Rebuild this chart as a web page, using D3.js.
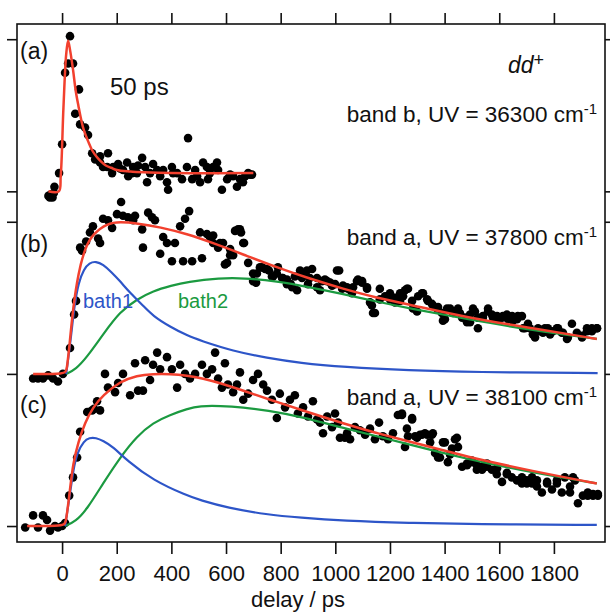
<!DOCTYPE html>
<html>
<head>
<meta charset="utf-8">
<script src="https://cdn.jsdelivr.net/npm/d3@7"></script>
<style>
  body { margin: 0; background: #fff; }
  text { font-family: "Liberation Sans", Arial, sans-serif; fill: #111; }
</style>
</head>
<body>
<script>
// ---- data (delay in ps, normalised signal) ----
var xTicks = [0, 200, 400, 600, 800, 1000, 1200, 1400, 1600, 1800];
var yTicks = [0, 1, 2, 2.2, 3.2];
var offsets = {a: 2.2, b: 1, c: 0};

var dotsA = [[-50,-0.03],[-45,-0.04],[-40,-0.02],[-35,-0.04],[-30,-0.01],[-28,0.03],[-11,0.12],[0,0.31],
  [11,0.78],[22,0.84],[29,1.02],[40,0.84],[48,0.51],[62,0.67],[66,0.44],[84,0.42],[95,0.37],[110,0.25],
  [121,0.21],[139,0.19],[139,0.23],[150,0.16],[165,0.16],[168,0.25],[183,0.12],[187,0.16],[205,0.18],
  [212,0.15],[223,0.14],[238,0.19],[242,0.10],[256,0.12],[260,0.16],[274,0.12],[278,0.17],[293,0.22],
  [304,0.16],[311,0.06],[322,0.12],[333,0.18],[348,0.14],[359,0.10],[370,0.14],[384,0.06],[388,0.01],
  [402,0.16],[406,0.12],[421,0.12],[439,0.08],[457,0.16],[461,0.35],[476,0.08],[487,0.14],[494,0.10],
  [505,0.06],[516,0.19],[530,0.16],[534,0.08],[541,0.12],[553,0.16],[567,0.19],[571,0.14],[585,0.01],
  [604,0.08],[615,0.11],[626,0.10],[640,0.03],[651,0.08],[662,0.06],[670,0.10],[681,0.12],[688,0.11],[695,0.11]];

var dotsB = [[-106,-0.03],[-88,-0.03],[-70,-0.03],[-51,-0.01],[-33,-0.03],[-15,-0.05],[3,0.0],
  [29,0.17],[44,0.39],[51,0.48],[66,0.83],[73,0.81],[88,0.87],[102,0.93],[113,0.97],[132,0.89],[139,0.86],
  [150,1.02],[168,1.01],[183,0.96],[201,1.05],[216,1.13],[223,1.04],[241,1.03],[260,1.01],[267,1.04],
  [293,0.95],[296,0.83],[315,1.06],[329,1.03],[340,1.01],[359,0.79],[370,0.90],[384,0.86],[402,0.74],
  [413,0.86],[432,0.97],[443,0.74],[450,1.02],[465,1.07],[476,0.74],[505,0.93],[512,0.76],[530,0.92],
  [541,0.90],[553,0.86],[553,0.91],[571,0.83],[578,0.86],[589,0.86],[596,0.72],[604,0.73],[615,0.82],
  [615,0.78],[626,0.78],[633,0.94],[644,0.95],[651,0.95],[655,0.93],[663,0.86],[666,0.86],[681,0.73],
  [699,0.66],[699,0.61],[710,0.60],[713,0.66],[724,0.70],[732,0.70],[743,0.69],[750,0.69],[757,0.68],
  [768,0.64],[772,0.64],[786,0.66],[790,0.70],[805,0.63],[808,0.63],[823,0.62],[823,0.59],[837,0.59],
  [842,0.57],[852,0.64],[860,0.55],[871,0.68],[878,0.63],[889,0.66],[896,0.68],[900,0.59],[907,0.63],
  [915,0.69],[933,0.63],[933,0.57],[944,0.55],[951,0.61],[962,0.62],[970,0.61],[981,0.60],[988,0.58],
  [999,0.59],[1006,0.68],[1014,0.68],[1025,0.56],[1028,0.58],[1043,0.57],[1046,0.56],[1061,0.53],
  [1065,0.57],[1079,0.61],[1083,0.62],[1098,0.60],[1098,0.61],[1116,0.57],[1116,0.56],[1127,0.47],
  [1134,0.45],[1138,0.40],[1145,0.40],[1163,0.56],[1163,0.49],[1182,0.51],[1200,0.53],[1200,0.49],
  [1218,0.50],[1218,0.47],[1237,0.48],[1237,0.53],[1248,0.51],[1255,0.55],[1262,0.56],[1266,0.56],
  [1281,0.48],[1284,0.43],[1299,0.41],[1303,0.51],[1317,0.53],[1321,0.53],[1336,0.49],[1339,0.48],
  [1354,0.46],[1357,0.45],[1372,0.43],[1376,0.44],[1390,0.40],[1394,0.35],[1401,0.36],[1409,0.43],
  [1420,0.43],[1431,0.40],[1438,0.41],[1449,0.43],[1456,0.40],[1464,0.37],[1474,0.37],[1482,0.34],
  [1493,0.34],[1493,0.39],[1504,0.43],[1511,0.41],[1522,0.37],[1522,0.30],[1540,0.38],[1540,0.37],
  [1559,0.41],[1559,0.43],[1573,0.39],[1577,0.37],[1592,0.38],[1595,0.36],[1610,0.37],[1613,0.38],
  [1628,0.39],[1632,0.36],[1647,0.38],[1650,0.35],[1665,0.36],[1668,0.38],[1683,0.38],[1687,0.30],
  [1694,0.30],[1705,0.33],[1712,0.30],[1723,0.26],[1731,0.24],[1742,0.30],[1749,0.28],[1760,0.27],
  [1767,0.30],[1778,0.30],[1786,0.26],[1796,0.28],[1811,0.30],[1815,0.30],[1829,0.27],[1833,0.27],
  [1848,0.23],[1851,0.24],[1866,0.33],[1884,0.27],[1903,0.25],[1903,0.24],[1921,0.30],[1921,0.28],
  [1939,0.28],[1939,0.30],[1957,0.30],[1958,0.30]];

var dotsC = [[-135,-0.01],[-106,0.07],[-88,-0.01],[-70,0.07],[-55,0.04],[-44,-0.03],[-26,0.0],[-15,-0.01],
  [0,0.0],[11,0.02],[26,0.20],[40,0.32],[55,0.45],[66,0.62],[92,0.75],[110,0.76],[117,0.77],[128,0.82],
  [139,0.76],[157,1.0],[168,0.91],[194,0.88],[205,0.94],[223,1.0],[249,0.86],[267,1.07],[278,0.89],
  [296,0.89],[304,1.09],[322,0.96],[333,1.06],[348,1.14],[359,1.03],[384,1.11],[402,1.03],[421,0.91],
  [432,1.06],[450,1.0],[468,0.97],[487,1.0],[512,1.06],[530,1.0],[549,1.03],[560,1.14],[571,0.97],
  [585,0.91],[596,1.07],[607,0.93],[626,0.88],[640,0.93],[651,1.01],[663,0.83],[681,0.87],[699,0.96],
  [717,1.0],[736,0.93],[750,0.89],[768,0.83],[786,0.71],[797,0.87],[816,0.78],[834,0.83],[852,0.86],
  [863,0.74],[882,0.78],[900,0.72],[918,0.82],[933,0.70],[944,0.68],[955,0.61],[970,0.72],[988,0.65],
  [999,0.74],[1010,0.68],[1017,0.58],[1035,0.58],[1043,0.61],[1054,0.57],[1072,0.65],[1090,0.63],
  [1109,0.60],[1127,0.64],[1145,0.57],[1160,0.68],[1174,0.59],[1193,0.57],[1211,0.61],[1229,0.73],
  [1244,0.74],[1244,0.73],[1255,0.52],[1262,0.64],[1266,0.59],[1281,0.70],[1281,0.71],[1292,0.59],
  [1299,0.58],[1310,0.60],[1317,0.60],[1328,0.61],[1336,0.60],[1347,0.55],[1354,0.60],[1357,0.61],
  [1365,0.48],[1376,0.45],[1383,0.45],[1394,0.55],[1401,0.55],[1412,0.42],[1420,0.47],[1427,0.51],
  [1438,0.57],[1445,0.58],[1449,0.52],[1464,0.39],[1482,0.40],[1482,0.41],[1500,0.43],[1500,0.42],
  [1518,0.40],[1518,0.37],[1537,0.37],[1537,0.39],[1555,0.39],[1555,0.41],[1573,0.37],[1592,0.38],
  [1591,0.34],[1610,0.29],[1628,0.35],[1628,0.34],[1646,0.32],[1665,0.30],[1683,0.28],[1683,0.32],
  [1701,0.30],[1701,0.28],[1720,0.28],[1720,0.32],[1738,0.30],[1738,0.26],[1756,0.22],[1775,0.28],
  [1775,0.29],[1793,0.24],[1811,0.30],[1811,0.28],[1829,0.22],[1840,0.32],[1859,0.22],[1859,0.26],
  [1870,0.32],[1877,0.30],[1888,0.15],[1906,0.20],[1924,0.20],[1924,0.22],[1943,0.20],[1943,0.21],
  [1961,0.20],[1961,0.21]];

// fitted curves
var fitA = [[-50,0],[-12,0],[-5,0.1],[5,0.55],[15,0.9],[22,0.99],[30,0.92],[40,0.8],[50,0.66],[60,0.56],
  [70,0.47],[80,0.40],[95,0.33],[110,0.27],[125,0.23],[140,0.2],[160,0.17],[180,0.155],[200,0.14],
  [250,0.13],[300,0.125],[400,0.12],[700,0.12]];
var fitB = [[-106,0],[12,0],[17,0.02],[29,0.22],[40,0.43],[59,0.66],[84,0.83],[113,0.92],[165,0.99],
  [212,1.0],[274,0.99],[359,0.965],[457,0.92],[553,0.86],[663,0.785],[786,0.70],[907,0.625],[1028,0.56],
  [1152,0.50],[1273,0.455],[1482,0.37],[1723,0.30],[1957,0.23]];
var bath1B = [[15,0],[30,0.2],[45,0.45],[60,0.6],[80,0.69],[100,0.73],[124,0.74],[150,0.72],[180,0.67],
  [212,0.61],[250,0.53],[296,0.45],[333,0.38],[395,0.31],[460,0.25],[505,0.22],[626,0.15],[750,0.105],
  [871,0.072],[1028,0.045],[1273,0.022],[1500,0.012],[1960,0.005]];
var bath2B = [[15,0],[50,0.03],[91,0.11],[150,0.26],[212,0.41],[274,0.49],[333,0.545],[400,0.58],
  [457,0.605],[578,0.63],[663,0.63],[786,0.61],[907,0.57],[1028,0.525],[1152,0.475],[1273,0.43],
  [1482,0.36],[1723,0.285],[1957,0.23]];
var fitC = [[-128,0],[8,0],[14,0.02],[29,0.24],[40,0.41],[59,0.55],[84,0.68],[113,0.78],[150,0.86],
  [212,0.95],[274,0.99],[333,1.0],[395,1.0],[457,0.99],[516,0.97],[578,0.94],[663,0.89],[786,0.815],
  [907,0.745],[1028,0.675],[1152,0.61],[1273,0.555],[1482,0.455],[1723,0.36],[1957,0.28]];
var bath1C = [[11,0],[28,0.2],[42,0.38],[55,0.48],[80,0.56],[100,0.58],[124,0.58],[150,0.56],[187,0.52],
  [238,0.43],[333,0.30],[457,0.20],[505,0.17],[604,0.12],[750,0.075],[871,0.055],[1028,0.035],
  [1273,0.02],[1500,0.012],[1957,0.007]];
var bath2C = [[11,0],[50,0.03],[91,0.11],[150,0.28],[212,0.45],[274,0.59],[333,0.68],[395,0.73],
  [457,0.77],[505,0.79],[578,0.79],[663,0.78],[750,0.76],[871,0.72],[1028,0.645],[1152,0.59],
  [1273,0.535],[1482,0.44],[1723,0.35],[1957,0.28]];

// ---- layout ----
var W = 610, H = 613;
var L = 17, R = 605, T = 24, B = 542;
var red = "#f2402e", blue = "#2d55c8", green = "#1b9a40";

var svg = d3.select("body").append("svg")
  .attr("width", W)
  .attr("height", H);

var x = d3.scaleLinear().domain([-165, 1987]).range([L, R]);
var y = d3.scaleLinear().domain([-0.105, 3.30]).range([B, T]);

// dots
var panels = [
  {dots: dotsA, off: offsets.a},
  {dots: dotsB, off: offsets.b},
  {dots: dotsC, off: offsets.c}
];
panels.forEach(function(p) {
  svg.append("g").selectAll("circle")
    .data(p.dots).enter()
    .append("circle")
    .attr("cx", function(d) { return x(d[0]); })
    .attr("cy", function(d) { return y(d[1] + p.off); })
    .attr("r", 4.3)
    .attr("fill", "#000");
});

// curves
function drawCurve(data, off, color, w, curve) {
  var line = d3.line()
    .x(function(d) { return x(d[0]); })
    .y(function(d) { return y(d[1] + off); })
    .curve(curve || d3.curveBasis);
  svg.append("path")
    .datum(data)
    .attr("d", line)
    .attr("fill", "none")
    .attr("stroke", color)
    .attr("stroke-width", w);
}
drawCurve(bath2B, offsets.b, green, 2.2);
drawCurve(bath1B, offsets.b, blue, 2.2);
drawCurve(bath2C, offsets.c, green, 2.2);
drawCurve(bath1C, offsets.c, blue, 2.2);
drawCurve(fitA, offsets.a, red, 2.5, d3.curveCatmullRom.alpha(0.5));
drawCurve(fitB, offsets.b, red, 2.5);
drawCurve(fitC, offsets.c, red, 2.5);

// frame
svg.append("rect")
  .attr("x", L).attr("y", T)
  .attr("width", R - L).attr("height", B - T)
  .attr("fill", "none")
  .attr("stroke", "#111")
  .attr("stroke-width", 1.6);

// axes
var xAxis = svg.append("g")
  .attr("transform", "translate(0," + B + ")")
  .call(d3.axisBottom(x).tickValues(xTicks).tickFormat(d3.format("d"))
    .tickSize(12).tickPadding(11).tickSizeOuter(0));
xAxis.selectAll("text")
  .style("font-family", "Liberation Sans, Arial, sans-serif")
  .style("font-size", "22px")
  .attr("fill", "#111");

var xTop = svg.append("g")
  .attr("transform", "translate(0," + T + ")")
  .call(d3.axisTop(x).tickValues(xTicks).tickSize(11).tickFormat("").tickSizeOuter(0));

var yLeft = svg.append("g")
  .attr("transform", "translate(" + L + ",0)")
  .call(d3.axisLeft(y).tickValues(yTicks).tickSize(10).tickFormat("").tickSizeOuter(0));

var yRight = svg.append("g")
  .attr("transform", "translate(" + R + ",0)")
  .call(d3.axisRight(y).tickValues(yTicks).tickSize(10).tickFormat("").tickSizeOuter(0));

[xAxis, xTop, yLeft, yRight].forEach(function(g) {
  g.select(".domain").remove();
  g.selectAll("line").attr("stroke", "#111").attr("stroke-width", 1.6);
});

// axis title
svg.append("text")
  .attr("x", 298).attr("y", 607)
  .attr("text-anchor", "middle")
  .style("font-size", "22px")
  .text("delay / ps");

// panel labels
[["(a)", 59], ["(b)", 252], ["(c)", 413]].forEach(function(d) {
  svg.append("text")
    .attr("x", 20).attr("y", d[1])
    .style("font-size", "23px")
    .text(d[0]);
});

svg.append("text")
  .attr("x", 110).attr("y", 95)
  .style("font-size", "24px")
  .text("50 ps");

var dd = svg.append("text")
  .attr("x", 508).attr("y", 73)
  .style("font-size", "23px")
  .style("font-style", "italic")
  .text("dd");
dd.append("tspan")
  .attr("dy", -7)
  .style("font-size", "18px")
  .style("font-style", "normal")
  .text("+");

[["band b, UV = 36300 cm", 122], ["band a, UV = 37800 cm", 245], ["band a, UV = 38100 cm", 405]]
  .forEach(function(d) {
    var t = svg.append("text")
      .attr("x", 597).attr("y", d[1])
      .attr("text-anchor", "end")
      .style("font-size", "22.5px")
      .text(d[0]);
    t.append("tspan")
      .attr("dy", -8)
      .style("font-size", "15px")
      .text("-1");
  });

svg.append("text")
  .attr("x", 83).attr("y", 308)
  .style("font-size", "20px")
  .style("fill", blue)
  .text("bath1");
svg.append("text")
  .attr("x", 178).attr("y", 308)
  .style("font-size", "20px")
  .style("fill", green)
  .text("bath2");
</script>
</body>
</html>
